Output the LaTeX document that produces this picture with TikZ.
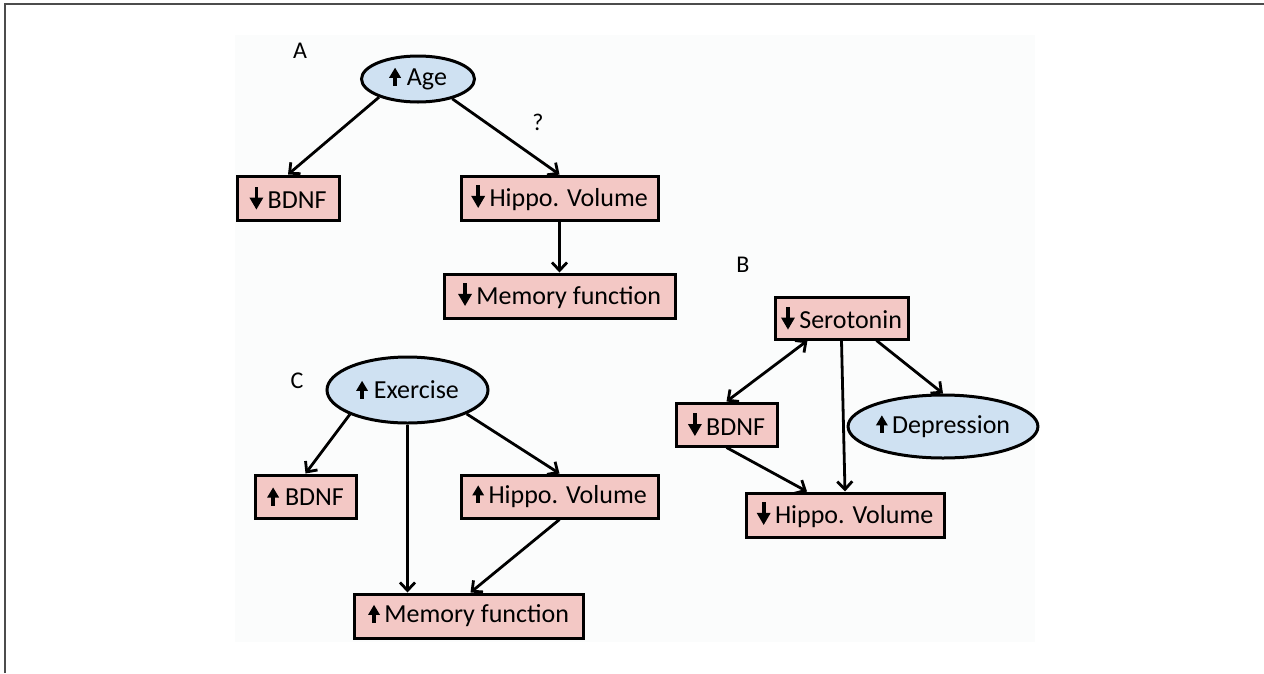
\documentclass[tikz,border=0pt]{standalone}
\usepackage{fontspec}
\setmainfont{Carlito}
\usetikzlibrary{arrows.meta,shapes.geometric}
\definecolor{boxpink}{RGB}{243,200,197}
\definecolor{ellblue}{RGB}{207,225,242}
\definecolor{bgfaint}{RGB}{251,252,252}
\newcommand\dnar{\tikz[baseline=0pt]{\fill[black] (-1.9pt,22pt) rectangle (1.9pt,8pt); \fill[black] (-7pt,11pt) -- (7pt,11pt) -- (0pt,-1pt) -- cycle;}}
\newcommand\upar{\tikz[baseline=0pt]{\fill[black] (-1.8pt,0pt) rectangle (1.8pt,9pt); \fill[black] (-6pt,8pt) -- (6pt,8pt) -- (0pt,18pt) -- cycle;}}
\tikzset{
  pbox/.style={draw=black, line width=3pt, fill=boxpink, inner sep=0pt, font=\fontsize{26}{30}\selectfont},
  bell/.style={ellipse, draw=black, line width=3pt, fill=ellblue, inner sep=0pt, font=\fontsize{26}{30}\selectfont},
  conn/.style={line width=2.8pt, -{Straight Barb[length=8pt,width=15pt]}},
  dconn/.style={line width=2.8pt, {Straight Barb[length=8pt,width=15pt]}-{Straight Barb[length=8pt,width=15pt]}},
  lab/.style={inner sep=0pt, font=\fontsize{24}{28}\selectfont}
}
\begin{document}
\begin{tikzpicture}[x=1pt,y=-1pt]
\useasboundingbox (0,0) rectangle (1264,673);
\fill[bgfaint] (235,35) rectangle (1035,642);
\draw[line width=1.8pt, black!70] (5,673) -- (5,4) -- (1264,4);
% Panel A
\node[lab] (la) at (300,51) {A};
\node[bell, minimum width=113pt, minimum height=46pt] (age) at (418,79) {\upar\ Age};
\node[pbox, minimum width=102pt, minimum height=44pt] (a1) at (288,198) {\dnar\,BDNF};
\node[pbox, minimum width=197pt, minimum height=44pt] (ha) at (559.5,198) {\dnar\,Hippo. Volume};
\node[pbox, minimum width=231pt, minimum height=44pt] (ma) at (559.5,296) {\dnar\,Memory function};
\node[lab] (q) at (538,122) {?};
\draw[conn] (age.205) -- (a1.north);
\draw[conn] (age.330) -- (ha.north);
\draw[conn] (ha.south) -- (ma.north);
% Panel B
\node[lab] (lb) at (743,265) {B};
\node[pbox, minimum width=133pt, minimum height=42pt] (ser) at (841.5,318) {\dnar\,Serotonin};
\node[pbox, minimum width=101pt, minimum height=43pt] (bb) at (726.5,424.5) {\dnar\,BDNF};
\node[bell, minimum width=170pt, minimum height=63pt] (dep) at (943,426.5) {\upar\,Depression};
\node[pbox, minimum width=198pt, minimum height=44pt] (hb) at (845,515) {\dnar\,Hippo. Volume};
\draw[dconn] ([xshift=-34pt]ser.south) -- (bb.north);
\draw[conn] (ser.south) -- (hb.north);
\draw[conn] ([xshift=35pt]ser.south) -- (dep.north);
\draw[conn] (bb.south) -- ([xshift=-38pt]hb.north);
% Panel C
\node[lab] (lc) at (297,381) {C};
\node[bell, minimum width=161pt, minimum height=66pt] (ex) at (407.5,390) {\upar\ Exercise};
\node[pbox, minimum width=101pt, minimum height=43pt] (bc) at (305.5,496.5) {\upar\ BDNF};
\node[pbox, minimum width=197pt, minimum height=43pt] (hc) at (559.5,496.5) {\upar\,Hippo. Volume};
\node[pbox, minimum width=229pt, minimum height=44pt] (mc) at (468.5,616) {\upar\,Memory function};
\draw[conn] (ex.203) -- (bc.north);
\draw[conn] (ex.south) -- (ex.south |- mc.north);
\draw[conn] (ex.338) -- (hc.north);
\draw[conn] (hc.south) -- ([xshift=2pt]mc.north);
\end{tikzpicture}
\end{document}
